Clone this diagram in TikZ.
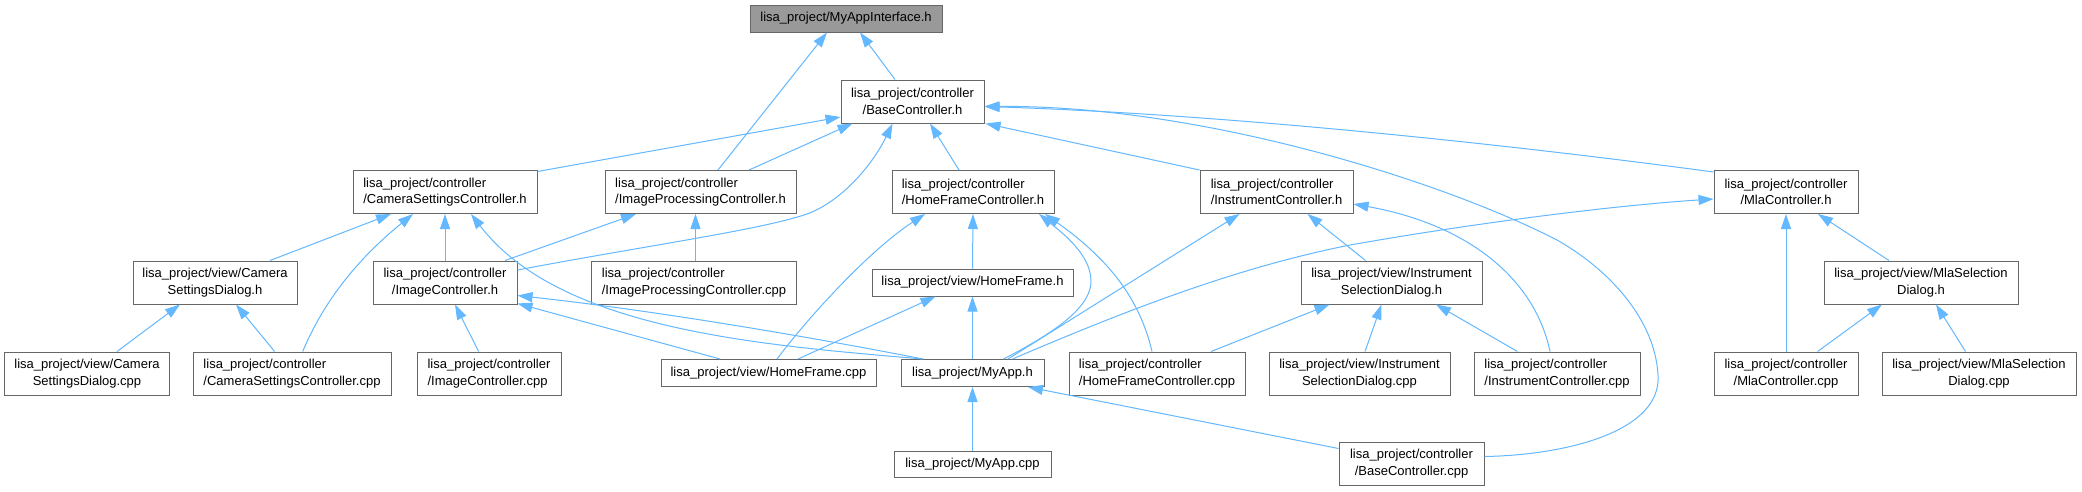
\documentclass[tikz,border=0pt]{standalone}
\usepackage{fontspec}
\setmainfont{Liberation Sans}
\usetikzlibrary{arrows.meta}
\definecolor{edgeblue}{HTML}{63B8FF}
\definecolor{boxborder}{HTML}{666666}
\definecolor{rootfill}{HTML}{999999}
\tikzset{
  filebox/.style={draw=boxborder, line width=1pt, fill=white, inner sep=0pt,
    font=\fontsize{13pt}{16.5pt}\selectfont, text=black, minimum height=43pt},
  onebox/.style={filebox, minimum height=27pt},
  incl/.style={draw=edgeblue, line width=1pt, -{Triangle[length=15pt,width=10pt]}},
}
\begin{document}
\begin{tikzpicture}[x=1pt,y=-1pt]
\useasboundingbox[fill=white] (0,0) rectangle (2082,491);

% nodes
\node[onebox, fill=rootfill, minimum width=192pt] (iface) at (846,18.5) {lisa\_project/MyAppInterface.h};
\node[filebox, minimum width=143pt, align=center] (base) at (912.5,101.5) {lisa\_project/controller\\/BaseController.h};

\node[filebox, minimum width=184pt, align=left] (camc) at (445,192) {lisa\_project/controller\\/CameraSettingsController.h};
\node[filebox, minimum width=191pt, align=left] (ipc) at (700.5,192) {lisa\_project/controller\\/ImageProcessingController.h};
\node[filebox, minimum width=162pt, align=left] (hfc) at (973,192) {lisa\_project/controller\\/HomeFrameController.h};
\node[filebox, minimum width=153pt, align=left] (ic) at (1276.5,192) {lisa\_project/controller\\/InstrumentController.h};
\node[filebox, minimum width=144pt, align=center] (mla) at (1786,192) {lisa\_project/controller\\/MlaController.h};

\node[filebox, minimum width=164pt, align=center] (csd) at (215,282.5) {lisa\_project/view/Camera\\SettingsDialog.h};
\node[filebox, minimum width=144pt, align=center] (imgc) at (445,282.5) {lisa\_project/controller\\/ImageController.h};
\node[filebox, minimum width=205pt, align=left] (ipcpp) at (694,282.5) {lisa\_project/controller\\/ImageProcessingController.cpp};
\node[onebox, minimum width=201pt] (hf) at (972.5,282.5) {lisa\_project/view/HomeFrame.h};
\node[filebox, minimum width=181pt, align=center] (isd) at (1391.5,282.5) {lisa\_project/view/Instrument\\SelectionDialog.h};
\node[filebox, minimum width=194pt, align=center] (msd) at (1921,282.5) {lisa\_project/view/MlaSelection\\Dialog.h};

\node[filebox, minimum width=165pt, align=center] (csdcpp) at (87,373.5) {lisa\_project/view/Camera\\SettingsDialog.cpp};
\node[filebox, minimum width=198pt, align=left] (camcpp) at (292,373.5) {lisa\_project/controller\\/CameraSettingsController.cpp};
\node[filebox, minimum width=144pt, align=left] (imgcpp) at (489,373.5) {lisa\_project/controller\\/ImageController.cpp};
\node[onebox, minimum width=215pt] (hfcpp) at (768.5,373) {lisa\_project/view/HomeFrame.cpp};
\node[onebox, minimum width=143pt] (myapp) at (972.5,373) {lisa\_project/MyApp.h};
\node[filebox, minimum width=176pt, align=left] (hfccpp) at (1157,373.5) {lisa\_project/controller\\/HomeFrameController.cpp};
\node[filebox, minimum width=181pt, align=center] (isdcpp) at (1359.5,373.5) {lisa\_project/view/Instrument\\SelectionDialog.cpp};
\node[filebox, minimum width=166pt, align=left] (iccpp) at (1557,373.5) {lisa\_project/controller\\/InstrumentController.cpp};
\node[filebox, minimum width=144pt, align=center] (mlacpp) at (1786,373.5) {lisa\_project/controller\\/MlaController.cpp};
\node[filebox, minimum width=194pt, align=center] (msdcpp) at (1979,373.5) {lisa\_project/view/MlaSelection\\Dialog.cpp};

\node[onebox, minimum width=157pt, minimum height=26pt] (myappcpp) at (972.5,464) {lisa\_project/MyApp.cpp};
\node[filebox, minimum width=145pt, align=center] (basecpp) at (1411.5,463.5) {lisa\_project/controller\\/BaseController.cpp};

% edges
\draw[incl] ([xshift=-17.5pt]base.north) -- ([xshift=14pt]iface.south);
\draw[incl] ([xshift=17.5pt]ipc.north) -- ([xshift=-19pt]iface.south);
\draw[incl] ([yshift=-1.5pt]camc.north east) -- ([yshift=-15.5pt]base.west);
\draw[incl] ([xshift=48.5pt]ipc.north) -- ([xshift=-60pt]base.south);
\draw[incl] ([yshift=12.5pt]imgc.east) .. controls (650,245) and (760,230) .. (807,214) .. controls (845,200) and (875,160) .. ([xshift=-20pt]base.south);
\draw[incl] ([xshift=-14pt]hfc.north) -- ([xshift=17.5pt]base.south);
\draw[incl] (ic.north west) -- ([xshift=1pt]base.south east);
\draw[incl] ([yshift=-2pt]mla.north west) .. controls (1550,150) and (1250,115) .. ([yshift=-5pt]base.east);
\draw[incl] ([yshift=7pt]basecpp.east) .. controls (1570,455) and (1662,430) .. (1658,375) .. controls (1655,320) and (1610,270) .. (1557,240) .. controls (1440,180) and (1200,105) .. ([yshift=-5pt]base.east);

\draw[incl] ([xshift=55pt]csd.north) -- ([xshift=-54pt]camc.south);
\draw[incl] ([xshift=10.7pt]camcpp.north) .. controls (320,310) and (350,265) .. ([xshift=-32pt]camc.south);
\draw[incl] (imgc.north) -- (camc.south);
\draw[incl] ([xshift=-49.5pt]myapp.north) .. controls (760,345) and (560,330) .. ([xshift=26pt]camc.south);

\draw[incl] ([xshift=-12.5pt]imgc.north east) -- ([xshift=-64.5pt]ipc.south);
\draw[incl] ([xshift=1.5pt]ipcpp.north) -- ([xshift=-5pt]ipc.south);

\draw[incl] ([xshift=30pt]csdcpp.north) -- ([xshift=-35pt]csd.south);
\draw[incl] ([xshift=-17.4pt]camcpp.north) -- ([xshift=21pt]csd.south);

\draw[incl] ([xshift=-10.4pt]imgcpp.north) -- ([xshift=10pt]imgc.south);
\draw[incl] ([xshift=-49.5pt]myapp.north) .. controls (800,335) and (650,310) .. ([yshift=-13pt]imgc.east);
\draw[incl] ([xshift=-48.5pt]hfcpp.north) -- ([yshift=1pt]imgc.south east);

\draw[incl] ([xshift=8.5pt]hfcpp.north) .. controls (810,315) and (870,250) .. ([xshift=-48pt]hfc.south);
\draw[incl] ([xshift=29.5pt]hfcpp.north) -- ([xshift=-37pt]hf.south);
\draw[incl] (hf.north) -- (hfc.south);
\draw[incl] (myapp.north) -- (hf.south);
\draw[incl] ([xshift=31pt]myapp.north) .. controls (1060,330) and (1092,305) .. (1091,280) .. controls (1090,255) and (1065,235) .. ([xshift=66pt]hfc.south);
\draw[incl] ([xshift=-5pt]hfccpp.north) .. controls (1140,300) and (1110,260) .. ([xshift=72pt]hfc.south);

\draw[incl] ([xshift=35.5pt]myapp.north) -- ([xshift=-37pt]ic.south);
\draw[incl] ([xshift=40pt]myapp.north) .. controls (1150,300) and (1250,265) .. (1350,245) .. controls (1480,222) and (1620,205) .. ([yshift=-7pt]mla.west);
\draw[incl] ([xshift=-26pt]isd.north) -- ([xshift=31pt]ic.south);
\draw[incl] ([xshift=-7pt]iccpp.north) .. controls (1535,280) and (1470,225) .. ([yshift=-12pt]ic.east);

\draw[incl] ([xshift=54pt]hfccpp.north) -- ([xshift=-62pt]isd.south);
\draw[incl] ([xshift=5.5pt]isdcpp.north) -- ([xshift=-10pt]isd.south);
\draw[incl] ([xshift=-39.6pt]iccpp.north) -- ([xshift=44.5pt]isd.south);

\draw[incl] (mlacpp.north) -- (mla.south);
\draw[incl] ([xshift=-32pt]msd.north) -- ([xshift=32pt]mla.south);
\draw[incl] ([xshift=31.6pt]mlacpp.north) -- ([xshift=-39pt]msd.south);
\draw[incl] ([xshift=-13.5pt]msdcpp.north) -- ([xshift=15pt]msd.south);

\draw[incl] (myappcpp.north) -- (myapp.south);
\draw[incl] ([yshift=-7pt]basecpp.north west) -- ([xshift=55.5pt]myapp.south);
\end{tikzpicture}
\end{document}
